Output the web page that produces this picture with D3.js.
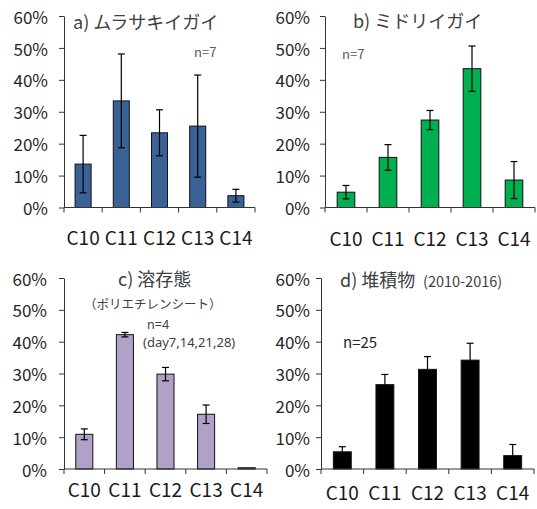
<!DOCTYPE html>
<html>
<head>
<meta charset="utf-8">
<script src="https://cdn.jsdelivr.net/npm/d3@7"></script>
<style>
  body { margin: 0; background: #fff; }
  text { font-family: "Noto Sans CJK JP", "Noto Sans", sans-serif; }
</style>
</head>
<body>
<div id="chart"></div>
<script>
// Data.
var categories = ['C10', 'C11', 'C12', 'C13', 'C14'];
var yTicks = [0, 0.1, 0.2, 0.3, 0.4, 0.5, 0.6];

var musselValues = [0.136, 0.334, 0.234, 0.255, 0.037];
var musselErrors = [0.090, 0.147, 0.072, 0.160, 0.020];

var greenValues = [0.048, 0.157, 0.274, 0.435, 0.086];
var greenErrors = [0.021, 0.040, 0.030, 0.071, 0.058];

var dissolvedValues = [0.109, 0.422, 0.298, 0.172, 0.004];
var dissolvedErrors = [0.017, 0.007, 0.021, 0.029, 0];

var sedimentValues = [0.054, 0.265, 0.313, 0.342, 0.042];
var sedimentErrors = [0.016, 0.032, 0.040, 0.053, 0.035];

var panels = [
    { values: musselValues, errors: musselErrors, both: true, fill: '#3a6296',
      x0: 64, x1: 255, yTop: 16, yBot: 207.5, labelY: 245, labelGap: 16 },
    { values: greenValues, errors: greenErrors, both: true, fill: '#00b050',
      x0: 325, x1: 535, yTop: 16, yBot: 207.5, labelY: 246, labelGap: 15 },
    { values: dissolvedValues, errors: dissolvedErrors, both: true, fill: '#b1a0c7',
      x0: 64, x1: 267, yTop: 278, yBot: 469, labelY: 497, labelGap: 17 },
    { values: sedimentValues, errors: sedimentErrors, both: false, fill: '#000000',
      x0: 321, x1: 534, yTop: 278, yBot: 469, labelY: 500, labelGap: 11 }
];

var svg = d3.select('#chart')
    .append('svg')
    .attr('width', 537)
    .attr('height', 509);

panels.forEach(function(p) {
    var xScale = d3.scaleBand()
        .domain(categories)
        .range([p.x0, p.x1])
        .paddingInner(0.58)
        .paddingOuter(0.29);
    var yScale = d3.scaleLinear()
        .domain([0, 0.6])
        .range([p.yBot, p.yTop]);

    var g = svg.append('g');
    var stats = categories.map(function(c, i) {
        return { cat: c, value: p.values[i], err: p.errors[i] };
    });

    // bars
    g.selectAll('rect')
        .data(stats)
        .enter().append('rect')
        .attr('x', d => xScale(d.cat))
        .attr('width', xScale.bandwidth())
        .attr('y', d => yScale(d.value))
        .attr('height', d => p.yBot - yScale(d.value))
        .attr('fill', p.fill)
        .attr('stroke', '#111')
        .attr('stroke-width', 1);

    // error bars
    var eb = g.selectAll('.eb')
        .data(stats.filter(d => d.err > 0))
        .enter().append('g')
        .attr('class', 'eb')
        .attr('stroke', '#000')
        .attr('stroke-width', 1.2);
    var cx = d => xScale(d.cat) + xScale.bandwidth() / 2;
    eb.append('line')
        .attr('x1', cx).attr('x2', cx)
        .attr('y1', d => yScale(d.value + d.err))
        .attr('y2', d => p.both ? yScale(d.value - d.err) : yScale(d.value));
    eb.append('line')
        .attr('x1', d => cx(d) - 3.5).attr('x2', d => cx(d) + 3.5)
        .attr('y1', d => yScale(d.value + d.err))
        .attr('y2', d => yScale(d.value + d.err));
    if (p.both) {
        eb.append('line')
            .attr('x1', d => cx(d) - 3.5).attr('x2', d => cx(d) + 3.5)
            .attr('y1', d => yScale(d.value - d.err))
            .attr('y2', d => yScale(d.value - d.err));
    }

    // y axis
    var yAxis = g.append('g')
        .attr('transform', 'translate(' + p.x0 + ',0)')
        .call(d3.axisLeft(yScale)
            .tickValues(yTicks)
            .tickFormat(d3.format('.0%'))
            .tickSize(5)
            .tickSizeOuter(0)
            .tickPadding(p.labelGap - 5));
    yAxis.selectAll('path, line').attr('stroke', '#333');
    yAxis.selectAll('text')
        .attr('font-size', 17)
        .attr('fill', '#262626')
        .attr('dy', '0.42em')
        .style('font-family', '"Noto Sans CJK JP", sans-serif');

    // x axis line with category boundary ticks
    var step = xScale.step();
    var bounds = d3.range(categories.length + 1).map(i => p.x0 + i * step);
    g.append('line')
        .attr('x1', p.x0).attr('x2', p.x1)
        .attr('y1', p.yBot).attr('y2', p.yBot)
        .attr('stroke', '#333');
    g.selectAll('.bt')
        .data(bounds)
        .enter().append('line')
        .attr('class', 'bt')
        .attr('x1', d => d).attr('x2', d => d)
        .attr('y1', p.yBot).attr('y2', p.yBot + 5)
        .attr('stroke', '#333');
    g.selectAll('.xl')
        .data(categories)
        .enter().append('text')
        .attr('class', 'xl')
        .attr('x', d => xScale(d) + xScale.bandwidth() / 2)
        .attr('y', p.labelY)
        .attr('text-anchor', 'middle')
        .attr('font-size', 19)
        .attr('fill', '#1a1a1a')
        .text(d => d);
});

// titles and notes
function note(x, y, size, color, str, family) {
    var t = svg.append('text')
        .attr('x', x).attr('y', y)
        .attr('font-size', size)
        .attr('fill', color)
        .text(str);
    if (family) t.style('font-family', family);
}
note(73, 29, 18, '#404040', 'a) ムラサキイガイ');
note(194, 57, 13, '#595959', 'n=7');
note(353, 28, 18, '#404040', 'b) ミドリイガイ');
note(342, 59, 13, '#595959', 'n=7');
note(118, 286, 18, '#404040', 'c) 溶存態');
note(84, 309, 12.5, '#404040', '（ポリエチレンシート）');
note(147, 329, 12.5, '#404040', 'n=4', '"Noto Sans", sans-serif');
note(143, 347, 13, '#404040', '(day7,14,21,28)', '"Noto Sans", sans-serif');
note(340, 287, 18, '#404040', 'd) 堆積物');
note(423, 287, 14.5, '#404040', '(2010-2016)');
note(343, 348, 15, '#262626', 'n=25');
</script>
</body>
</html>
